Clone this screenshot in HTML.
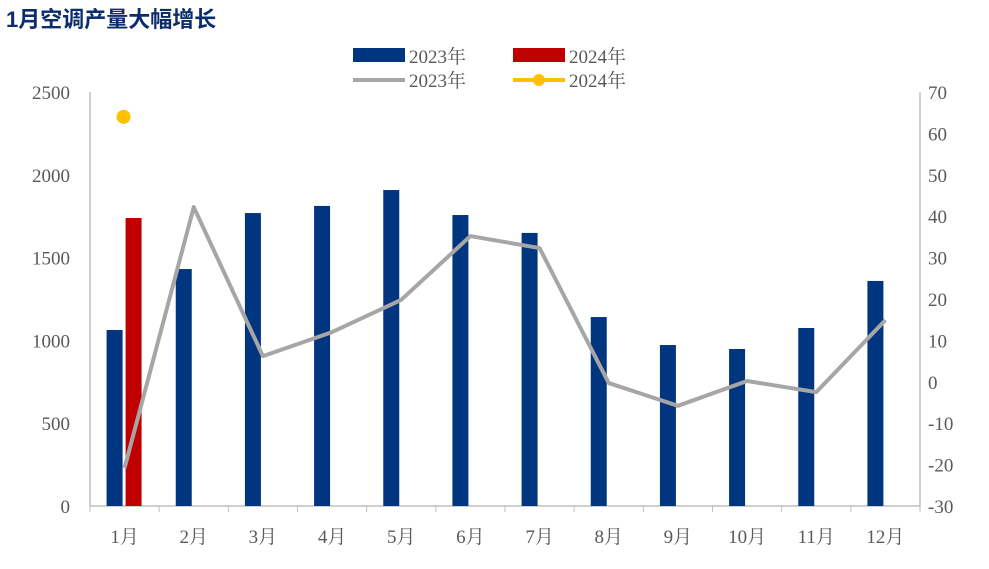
<!DOCTYPE html>
<html><head><meta charset="utf-8"><style>
body{margin:0;background:#fff;width:989px;height:564px;overflow:hidden;font-family:"Liberation Serif","Noto Serif CJK SC",serif}
</style></head><body>
<svg width="989" height="564" xmlns="http://www.w3.org/2000/svg">
<text x="6" y="27" font-size="22" font-weight="bold" fill="#0c2d6b" font-family="Liberation Sans,Noto Sans CJK SC,sans-serif">1月空调产量大幅增长</text>
<g font-size="19" fill="#595959">
<rect x="353" y="48" width="52" height="14" fill="#003580"/>
<text x="409" y="63">2023年</text>
<rect x="513" y="48" width="52" height="14" fill="#c00000"/>
<text x="569" y="63">2024年</text>
<line x1="353" y1="80" x2="405" y2="80" stroke="#a6a6a6" stroke-width="4"/>
<text x="409" y="87">2023年</text>
<line x1="513" y1="80" x2="565" y2="80" stroke="#ffc000" stroke-width="4"/>
<circle cx="539" cy="80" r="6" fill="#ffc000"/>
<text x="569" y="87">2024年</text>
</g>
<g id="axes"></g><g id="marks"></g>
</svg>
<script>
const categories=["1月","2月","3月","4月","5月","6月","7月","8月","9月","10月","11月","12月"];
const bars2023=[1063,1431,1769,1812,1908,1757,1649,1141,972,948,1075,1359];
const bars2024=[1739];
const line2023=[-20.8,42.2,6.2,12,19.8,35.2,32.3,-0.3,-5.8,0.2,-2.5,14.9];
const line2024=[64];
const leftTicks=[0,500,1000,1500,2000,2500];
const rightTicks=[-30,-20,-10,0,10,20,30,40,50,60,70];
const NS="http://www.w3.org/2000/svg";
const X0=90,X1=920,Y0=506,Y1=92;
const bw=(X1-X0)/categories.length;
const yL=v=>Y0-(v/2500)*(Y0-Y1);
const yR=v=>Y0-((v+30)/100)*(Y0-Y1);
const xc=i=>X0+bw*(i+0.5);
function mk(t,a,p){const e=document.createElementNS(NS,t);for(const k in a)e.setAttribute(k,a[k]);(p||document.getElementById('marks')).appendChild(e);return e;}
const ax=document.getElementById('axes');
let e;
e=mk('line',{x1:X0,y1:Y1,x2:X0,y2:Y0,stroke:'#bfbfbf','stroke-width':1.5},ax);


e=mk('line',{x1:X1,y1:Y1,x2:X1,y2:Y0,stroke:'#bfbfbf','stroke-width':1.5},ax);


e=mk('line',{x1:X0,y1:Y0,x2:X1,y2:Y0,stroke:'#bfbfbf','stroke-width':1.5},ax);


leftTicks.forEach(v=>{e=mk('text',{x:70,y:yL(v)+7,'text-anchor':'end','font-size':19,fill:'#595959'},ax);e.textContent=v;

});
rightTicks.forEach(v=>{e=mk('text',{x:928,y:yR(v)+7,'font-size':19,fill:'#595959'},ax);e.textContent=v;

});
for(let i=0;i<=categories.length;i++){e=mk('line',{x1:X0+bw*i,y1:Y0,x2:X0+bw*i,y2:Y0+6,stroke:'#bfbfbf'},ax);

}
categories.forEach((c,i)=>{e=mk('text',{x:xc(i),y:543,'text-anchor':'middle','font-size':19,fill:'#595959'},ax);e.textContent=c;

});
bars2023.forEach((v,i)=>{e=mk('rect',{x:xc(i)-18,y:yL(v),width:16,height:Y0-yL(v),fill:'#003580'});

});
bars2024.forEach((v,i)=>{e=mk('rect',{x:xc(i)+1,y:yL(v),width:16,height:Y0-yL(v),fill:'#c00000'});

});
e=mk('polyline',{points:line2023.map((v,i)=>xc(i)+','+yR(v)).join(' '),fill:'none',stroke:'#a6a6a6','stroke-width':4,'stroke-linejoin':'round'});


line2024.forEach((v,i)=>{e=mk('circle',{cx:xc(i)-1,cy:yR(v),r:7,fill:'#ffc000'});

});
</script>
</body></html>
